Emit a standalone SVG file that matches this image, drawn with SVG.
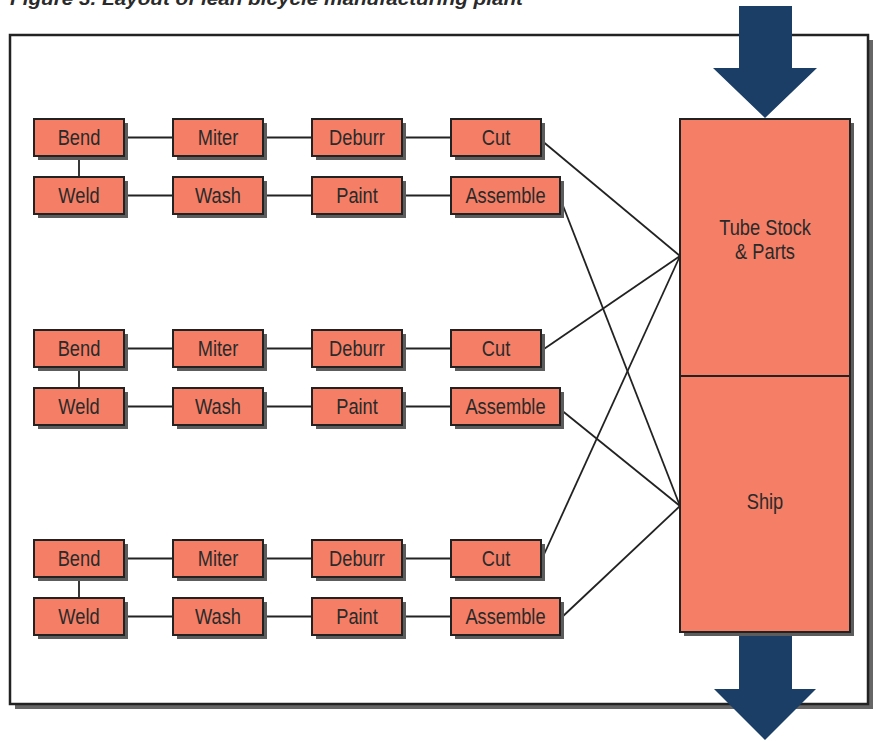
<svg xmlns="http://www.w3.org/2000/svg" width="877" height="741" viewBox="0 0 877 741">
<style>
.shadow{fill:#5c5c5c}
.box{fill:#F47F66;stroke:#222;stroke-width:2}
.lbl{font-family:"Liberation Sans",Arial,sans-serif;font-size:22px;fill:#2a2a2a;text-anchor:middle;transform-box:fill-box;transform-origin:center;transform:scaleX(0.83)}
.conn{stroke:#222;stroke-width:1.8;fill:none}
.arrow{fill:#1B3E66}
</style>
<rect width="877" height="741" fill="#fff"/>
<text x="10" y="5" textLength="513" lengthAdjust="spacingAndGlyphs" font-family="Liberation Sans,Arial,sans-serif" font-size="18" font-weight="bold" font-style="italic" fill="#2a2a2a">Figure 3. Layout of lean bicycle manufacturing plant</text>
<g id="frame">
<rect x="15" y="40" width="858" height="669" fill="#666"/>
<rect x="10" y="35" width="858" height="669" fill="#fff" stroke="#222" stroke-width="2.5"/>
</g>
<g id="connectors">
<line class="conn" x1="124" y1="137.5" x2="173" y2="137.5"/>
<line class="conn" x1="263" y1="137.5" x2="312" y2="137.5"/>
<line class="conn" x1="402" y1="137.5" x2="451" y2="137.5"/>
<line class="conn" x1="124" y1="195.5" x2="173" y2="195.5"/>
<line class="conn" x1="263" y1="195.5" x2="312" y2="195.5"/>
<line class="conn" x1="402" y1="195.5" x2="451" y2="195.5"/>
<line class="conn" x1="79" y1="156" x2="79" y2="177"/>
<line class="conn" x1="124" y1="348.5" x2="173" y2="348.5"/>
<line class="conn" x1="263" y1="348.5" x2="312" y2="348.5"/>
<line class="conn" x1="402" y1="348.5" x2="451" y2="348.5"/>
<line class="conn" x1="124" y1="406.5" x2="173" y2="406.5"/>
<line class="conn" x1="263" y1="406.5" x2="312" y2="406.5"/>
<line class="conn" x1="402" y1="406.5" x2="451" y2="406.5"/>
<line class="conn" x1="79" y1="367" x2="79" y2="388"/>
<line class="conn" x1="124" y1="558.5" x2="173" y2="558.5"/>
<line class="conn" x1="263" y1="558.5" x2="312" y2="558.5"/>
<line class="conn" x1="402" y1="558.5" x2="451" y2="558.5"/>
<line class="conn" x1="124" y1="616.5" x2="173" y2="616.5"/>
<line class="conn" x1="263" y1="616.5" x2="312" y2="616.5"/>
<line class="conn" x1="402" y1="616.5" x2="451" y2="616.5"/>
<line class="conn" x1="79" y1="577" x2="79" y2="598"/>
<line class="conn" x1="541" y1="140" x2="680" y2="256"/>
<line class="conn" x1="541" y1="351" x2="680" y2="256"/>
<line class="conn" x1="541" y1="561" x2="680" y2="256"/>
<line class="conn" x1="560" y1="198" x2="680" y2="506"/>
<line class="conn" x1="560" y1="409" x2="680" y2="506"/>
<line class="conn" x1="560" y1="619" x2="680" y2="506"/>
</g>
<g id="bend1"><rect class="shadow" x="38" y="123" width="90" height="37"/><rect class="box" x="34" y="119" width="90" height="37"/><text class="lbl" x="79" y="145.5">Bend</text></g>
<g id="miter1"><rect class="shadow" x="177" y="123" width="90" height="37"/><rect class="box" x="173" y="119" width="90" height="37"/><text class="lbl" x="218" y="145.5">Miter</text></g>
<g id="deburr1"><rect class="shadow" x="316" y="123" width="90" height="37"/><rect class="box" x="312" y="119" width="90" height="37"/><text class="lbl" x="357" y="145.5">Deburr</text></g>
<g id="cut1"><rect class="shadow" x="455" y="123" width="90" height="37"/><rect class="box" x="451" y="119" width="90" height="37"/><text class="lbl" x="496" y="145.5">Cut</text></g>
<g id="weld1"><rect class="shadow" x="38" y="181" width="90" height="37"/><rect class="box" x="34" y="177" width="90" height="37"/><text class="lbl" x="79" y="203.5">Weld</text></g>
<g id="wash1"><rect class="shadow" x="177" y="181" width="90" height="37"/><rect class="box" x="173" y="177" width="90" height="37"/><text class="lbl" x="218" y="203.5">Wash</text></g>
<g id="paint1"><rect class="shadow" x="316" y="181" width="90" height="37"/><rect class="box" x="312" y="177" width="90" height="37"/><text class="lbl" x="357" y="203.5">Paint</text></g>
<g id="assemble1"><rect class="shadow" x="455" y="181" width="109" height="37"/><rect class="box" x="451" y="177" width="109" height="37"/><text class="lbl" x="505.5" y="203.5">Assemble</text></g>
<g id="bend2"><rect class="shadow" x="38" y="334" width="90" height="37"/><rect class="box" x="34" y="330" width="90" height="37"/><text class="lbl" x="79" y="356.5">Bend</text></g>
<g id="miter2"><rect class="shadow" x="177" y="334" width="90" height="37"/><rect class="box" x="173" y="330" width="90" height="37"/><text class="lbl" x="218" y="356.5">Miter</text></g>
<g id="deburr2"><rect class="shadow" x="316" y="334" width="90" height="37"/><rect class="box" x="312" y="330" width="90" height="37"/><text class="lbl" x="357" y="356.5">Deburr</text></g>
<g id="cut2"><rect class="shadow" x="455" y="334" width="90" height="37"/><rect class="box" x="451" y="330" width="90" height="37"/><text class="lbl" x="496" y="356.5">Cut</text></g>
<g id="weld2"><rect class="shadow" x="38" y="392" width="90" height="37"/><rect class="box" x="34" y="388" width="90" height="37"/><text class="lbl" x="79" y="414.5">Weld</text></g>
<g id="wash2"><rect class="shadow" x="177" y="392" width="90" height="37"/><rect class="box" x="173" y="388" width="90" height="37"/><text class="lbl" x="218" y="414.5">Wash</text></g>
<g id="paint2"><rect class="shadow" x="316" y="392" width="90" height="37"/><rect class="box" x="312" y="388" width="90" height="37"/><text class="lbl" x="357" y="414.5">Paint</text></g>
<g id="assemble2"><rect class="shadow" x="455" y="392" width="109" height="37"/><rect class="box" x="451" y="388" width="109" height="37"/><text class="lbl" x="505.5" y="414.5">Assemble</text></g>
<g id="bend3"><rect class="shadow" x="38" y="544" width="90" height="37"/><rect class="box" x="34" y="540" width="90" height="37"/><text class="lbl" x="79" y="566.5">Bend</text></g>
<g id="miter3"><rect class="shadow" x="177" y="544" width="90" height="37"/><rect class="box" x="173" y="540" width="90" height="37"/><text class="lbl" x="218" y="566.5">Miter</text></g>
<g id="deburr3"><rect class="shadow" x="316" y="544" width="90" height="37"/><rect class="box" x="312" y="540" width="90" height="37"/><text class="lbl" x="357" y="566.5">Deburr</text></g>
<g id="cut3"><rect class="shadow" x="455" y="544" width="90" height="37"/><rect class="box" x="451" y="540" width="90" height="37"/><text class="lbl" x="496" y="566.5">Cut</text></g>
<g id="weld3"><rect class="shadow" x="38" y="602" width="90" height="37"/><rect class="box" x="34" y="598" width="90" height="37"/><text class="lbl" x="79" y="624.5">Weld</text></g>
<g id="wash3"><rect class="shadow" x="177" y="602" width="90" height="37"/><rect class="box" x="173" y="598" width="90" height="37"/><text class="lbl" x="218" y="624.5">Wash</text></g>
<g id="paint3"><rect class="shadow" x="316" y="602" width="90" height="37"/><rect class="box" x="312" y="598" width="90" height="37"/><text class="lbl" x="357" y="624.5">Paint</text></g>
<g id="assemble3"><rect class="shadow" x="455" y="602" width="109" height="37"/><rect class="box" x="451" y="598" width="109" height="37"/><text class="lbl" x="505.5" y="624.5">Assemble</text></g>
<g id="arrow-in"><polygon class="arrow" points="739,6 792,6 792,68 817,68 765,118 713,68 739,68"/></g>
<g id="arrow-out"><polygon class="arrow" points="739,628 792,628 792,689 816,689 765,740 714,689 739,689"/></g>
<g id="warehouse">
<rect class="shadow" x="684" y="123" width="170" height="513"/>
<rect class="box" x="680" y="119" width="170" height="513"/>
<line x1="680" y1="376" x2="850" y2="376" stroke="#222" stroke-width="2"/>
<text class="lbl" x="765" y="235.5">Tube Stock</text>
<text class="lbl" x="765" y="259.5">&amp; Parts</text>
<text class="lbl" x="765" y="509.5">Ship</text>
</g>
</svg>
